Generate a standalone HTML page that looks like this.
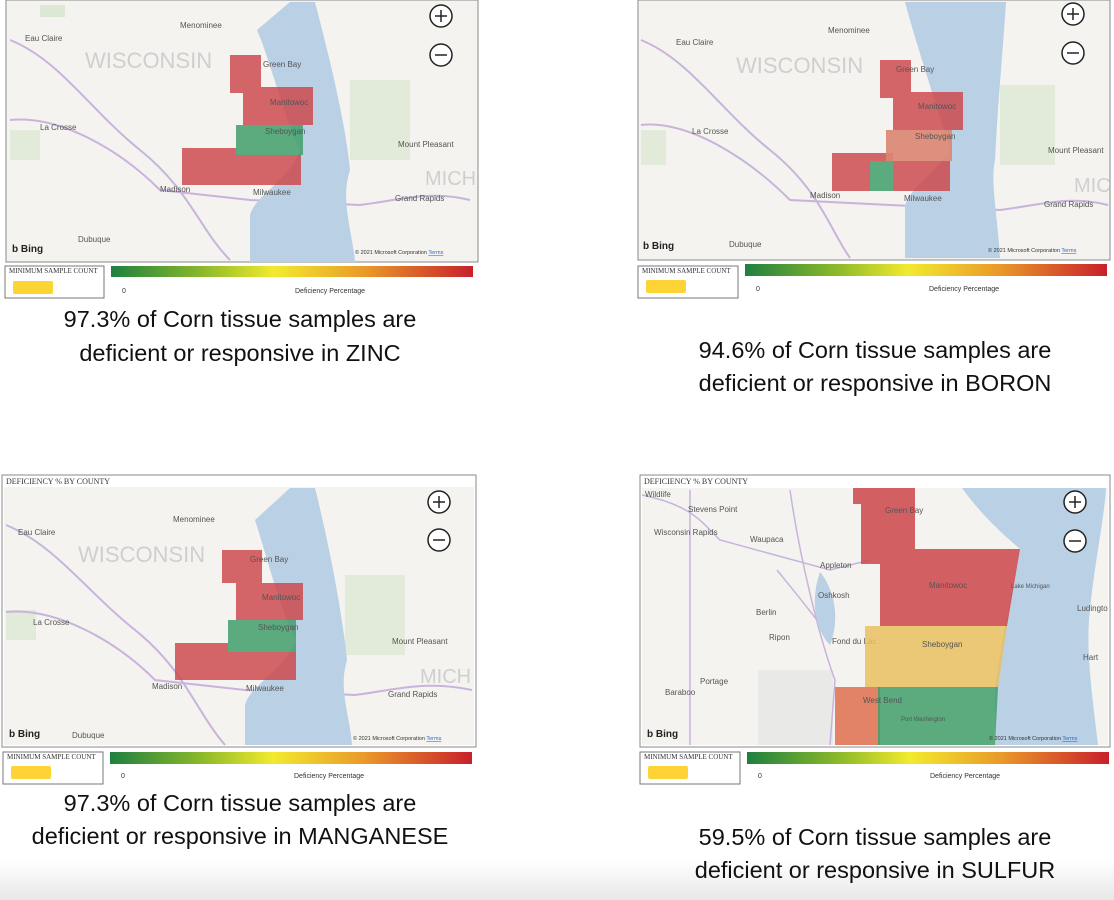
<!DOCTYPE html>
<html><head><meta charset="utf-8"><style>
html,body{margin:0;padding:0;background:#fff;}
svg{display:block;font-family:"Liberation Sans",sans-serif;}
.cap{font-size:23.5px;fill:#111;text-anchor:middle;}
.ml{font-size:8px;fill:#555;}
.ws{font-size:22px;fill:#cfcfcf;}
.lt{font-family:"Liberation Serif",serif;font-size:7px;fill:#333;}
</style></head><body>
<svg width="1114" height="900" viewBox="0 0 1114 900">
<defs>
<linearGradient id="g" x1="0" x2="1"><stop offset="0" stop-color="#1e8040"/><stop offset="0.25" stop-color="#8ab82a"/><stop offset="0.45" stop-color="#f2ea2e"/><stop offset="0.7" stop-color="#ea9a2a"/><stop offset="1" stop-color="#c8202a"/></linearGradient>
<linearGradient id="bot" x1="0" y1="0" x2="0" y2="1"><stop offset="0" stop-color="#fff"/><stop offset="1" stop-color="#e8e8e8"/></linearGradient>
</defs>
<rect x="0" y="860" width="1114" height="40" fill="url(#bot)"/>

<!-- Panel 1 -->
<rect x="6" y="0" width="472" height="262" fill="#f4f3ef" stroke="#888"/>
<rect x="40" y="5" width="25" height="12" fill="#dde8d4"/><rect x="350" y="80" width="60" height="80" fill="#e2ebd9"/><rect x="10" y="130" width="30" height="30" fill="#e2ebd9"/>
<path d="M10,40 C60,60 90,110 140,150 S200,230 230,260" stroke="#c9b3dc" fill="none" stroke-width="2"/>
<path d="M10,120 C60,115 120,150 160,190 L250,200 L360,205 C400,200 430,190 470,200" stroke="#c9b3dc" fill="none" stroke-width="2"/>
<path d="M257,30 C270,60 285,120 300,150 C290,180 255,195 250,215 L250,262 L355,262 C352,230 340,200 350,170 C345,120 330,60 315,2 L290,2 Z" fill="#bad0e4"/>
<text x="85" y="68" class="ws">WISCONSIN</text>
<text x="25" y="41" class="ml">Eau Claire</text><text x="40" y="130" class="ml">La Crosse</text><text x="160" y="192" class="ml">Madison</text><text x="253" y="195" class="ml">Milwaukee</text><text x="78" y="242" class="ml">Dubuque</text><text x="398" y="147" class="ml">Mount Pleasant</text><text x="395" y="201" class="ml">Grand Rapids</text><text x="180" y="28" class="ml">Menominee</text><text x="425" y="185" class="ws" style="font-size:20px">MICH</text>
<g fill="#cd4a4f" fill-opacity="0.85">
<path d="M230,55 H261 V87 H313 V125 H243 V93 H230 Z"/><path d="M182,148 H236 V155 H301 V185 H182 Z"/></g>
<rect x="236" y="125" width="67" height="30" fill="#3f9e6a" fill-opacity="0.85"/>
<text x="263" y="67" class="ml">Green Bay</text><text x="270" y="105" class="ml">Manitowoc</text><text x="265" y="134" class="ml">Sheboygan</text>
<text x="12" y="252" font-size="10" font-weight="bold" fill="#222">b Bing</text>
<text x="355" y="254" font-size="5.5" fill="#333">© 2021 Microsoft Corporation <tspan fill="#36c" text-decoration="underline">Terms</tspan></text>
<circle cx="441" cy="16" r="11" fill="#fff" stroke="#222" stroke-width="1.5"/><path d="M435,16h12M441,10v12" stroke="#222" stroke-width="1.5"/>
<circle cx="441" cy="55" r="11" fill="#fff" stroke="#222" stroke-width="1.5"/><path d="M435,55h12" stroke="#222" stroke-width="1.5"/>
<rect x="5" y="266" width="99" height="32" fill="#fff" stroke="#777"/><text x="9" y="273" class="lt">MINIMUM SAMPLE COUNT</text><rect x="13" y="281" width="40" height="13" rx="2" fill="#fdd335"/>
<rect x="111" y="266" width="362" height="11" fill="url(#g)"/>
<text x="122" y="293" font-size="7" fill="#333">0</text><text x="295" y="293" font-size="7" fill="#333">Deficiency Percentage</text>
<text x="240" y="327" class="cap">97.3% of Corn tissue samples are</text>
<text x="240" y="361" class="cap">deficient or responsive in ZINC</text>

<!-- Panel 2 -->
<rect x="638" y="0" width="472" height="260" fill="#f4f3ef" stroke="#888"/>
<rect x="1000" y="85" width="55" height="80" fill="#e2ebd9"/><rect x="641" y="130" width="25" height="35" fill="#e2ebd9"/>
<path d="M641,40 C690,60 720,110 770,150 S830,230 850,258" stroke="#c9b3dc" fill="none" stroke-width="2"/>
<path d="M641,125 C690,120 750,160 790,200 L890,205 L1000,210 C1040,205 1070,195 1108,205" stroke="#c9b3dc" fill="none" stroke-width="2"/>
<path d="M905,2 C915,40 935,100 950,150 C930,180 905,190 905,210 L905,258 L1000,258 C998,220 990,180 995,160 C998,100 1003,50 1006,2 Z" fill="#bad0e4"/>
<text x="736" y="73" class="ws">WISCONSIN</text>
<text x="676" y="45" class="ml">Eau Claire</text><text x="692" y="134" class="ml">La Crosse</text><text x="810" y="198" class="ml">Madison</text><text x="904" y="201" class="ml">Milwaukee</text><text x="729" y="247" class="ml">Dubuque</text><text x="1048" y="153" class="ml">Mount Pleasant</text><text x="1044" y="207" class="ml">Grand Rapids</text><text x="828" y="33" class="ml">Menominee</text><text x="1074" y="192" class="ws" style="font-size:20px">MIC</text>
<g fill="#cd4a4f" fill-opacity="0.85">
<path d="M880,60 H911 V92 H963 V130 H893 V98 H880 Z"/><path d="M832,153 H893 V161 H870 V191 H832 Z"/><path d="M893,161 H950 V191 H893 Z"/></g>
<rect x="886" y="130" width="66" height="31" fill="#dc8572" fill-opacity="0.9"/>
<rect x="870" y="161" width="23" height="30" fill="#3f9e6a" fill-opacity="0.85"/>
<text x="896" y="72" class="ml">Green Bay</text><text x="918" y="109" class="ml">Manitowoc</text><text x="915" y="139" class="ml">Sheboygan</text>
<text x="643" y="249" font-size="10" font-weight="bold" fill="#222">b Bing</text>
<text x="988" y="252" font-size="5.5" fill="#333">© 2021 Microsoft Corporation <tspan fill="#36c" text-decoration="underline">Terms</tspan></text>
<circle cx="1073" cy="14" r="11" fill="#fff" stroke="#222" stroke-width="1.5"/><path d="M1067,14h12M1073,8v12" stroke="#222" stroke-width="1.5"/>
<circle cx="1073" cy="53" r="11" fill="#fff" stroke="#222" stroke-width="1.5"/><path d="M1067,53h12" stroke="#222" stroke-width="1.5"/>
<rect x="638" y="266" width="100" height="32" fill="#fff" stroke="#777"/><text x="642" y="273" class="lt">MINIMUM SAMPLE COUNT</text><rect x="646" y="280" width="40" height="13" rx="2" fill="#fdd335"/>
<rect x="745" y="264" width="362" height="12" fill="url(#g)"/>
<text x="756" y="291" font-size="7" fill="#333">0</text><text x="929" y="291" font-size="7" fill="#333">Deficiency Percentage</text>
<text x="875" y="358" class="cap">94.6% of Corn tissue samples are</text>
<text x="875" y="391" class="cap">deficient or responsive in BORON</text>

<!-- Panel 3 -->
<rect x="2" y="475" width="474" height="272" fill="#fff" stroke="#888"/>
<text x="6" y="484" class="lt" style="font-size:8px">DEFICIENCY % BY COUNTY</text>
<rect x="4" y="487" width="470" height="258" fill="#f4f3ef"/>
<rect x="345" y="575" width="60" height="80" fill="#e2ebd9"/><rect x="6" y="610" width="30" height="30" fill="#e2ebd9"/>
<path d="M6,525 C55,545 85,590 135,630 S195,710 225,745" stroke="#c9b3dc" fill="none" stroke-width="2"/>
<path d="M6,612 C55,607 115,640 155,680 L245,690 L355,695 C395,690 425,680 472,690" stroke="#c9b3dc" fill="none" stroke-width="2"/>
<path d="M255,520 C265,550 280,610 296,640 C285,670 250,685 245,705 L245,745 L352,745 C350,715 338,690 347,660 C342,610 328,540 315,488 L290,488 Z" fill="#bad0e4"/>
<text x="78" y="562" class="ws">WISCONSIN</text>
<text x="18" y="535" class="ml">Eau Claire</text><text x="33" y="625" class="ml">La Crosse</text><text x="152" y="689" class="ml">Madison</text><text x="246" y="691" class="ml">Milwaukee</text><text x="72" y="738" class="ml">Dubuque</text><text x="392" y="644" class="ml">Mount Pleasant</text><text x="388" y="697" class="ml">Grand Rapids</text><text x="173" y="522" class="ml">Menominee</text><text x="420" y="683" class="ws" style="font-size:20px">MICH</text>
<g fill="#cd4a4f" fill-opacity="0.85">
<path d="M222,550 H262 V583 H303 V620 H236 V583 H222 Z"/><path d="M175,643 H228 V652 H296 V680 H175 Z"/></g>
<rect x="228" y="620" width="68" height="32" fill="#3f9e6a" fill-opacity="0.85"/>
<text x="250" y="562" class="ml">Green Bay</text><text x="262" y="600" class="ml">Manitowoc</text><text x="258" y="630" class="ml">Sheboygan</text>
<text x="9" y="737" font-size="10" font-weight="bold" fill="#222">b Bing</text>
<text x="353" y="740" font-size="5.5" fill="#333">© 2021 Microsoft Corporation <tspan fill="#36c" text-decoration="underline">Terms</tspan></text>
<circle cx="439" cy="502" r="11" fill="#fff" stroke="#222" stroke-width="1.5"/><path d="M433,502h12M439,496v12" stroke="#222" stroke-width="1.5"/>
<circle cx="439" cy="540" r="11" fill="#fff" stroke="#222" stroke-width="1.5"/><path d="M433,540h12" stroke="#222" stroke-width="1.5"/>
<rect x="3" y="752" width="100" height="32" fill="#fff" stroke="#777"/><text x="7" y="759" class="lt">MINIMUM SAMPLE COUNT</text><rect x="11" y="766" width="40" height="13" rx="2" fill="#fdd335"/>
<rect x="110" y="752" width="362" height="12" fill="url(#g)"/>
<text x="121" y="778" font-size="7" fill="#333">0</text><text x="294" y="778" font-size="7" fill="#333">Deficiency Percentage</text>
<text x="240" y="811" class="cap">97.3% of Corn tissue samples are</text>
<text x="240" y="844" class="cap">deficient or responsive in MANGANESE</text>

<!-- Panel 4 -->
<rect x="640" y="475" width="470" height="272" fill="#fff" stroke="#888"/>
<text x="644" y="484" class="lt" style="font-size:8px">DEFICIENCY % BY COUNTY</text>
<rect x="642" y="488" width="466" height="257" fill="#f4f3ef"/>
<rect x="758" y="670" width="75" height="75" fill="#e9e9e8"/>
<path d="M642,495 C690,505 700,520 720,540 L830,570 L870,560" stroke="#c9b3dc" fill="none" stroke-width="1.5"/>
<path d="M690,490 V745 M790,490 C800,560 820,640 835,680 L830,745" stroke="#c9b3dc" fill="none" stroke-width="1.5"/>
<path d="M777,570 C785,580 810,610 832,640" stroke="#c9b3dc" fill="none" stroke-width="1.5"/>
<path d="M820,572 C810,600 815,630 830,645 C840,620 835,590 820,572 Z" fill="#bad0e4"/>
<path d="M962,488 C985,520 1010,540 1020,549 L1005,626 L995,687 L995,745 L1098,745 C1093,700 1085,650 1090,610 C1095,560 1104,520 1106,488 Z" fill="#bad0e4"/>
<text x="688" y="512" class="ml">Stevens Point</text><text x="654" y="535" class="ml">Wisconsin Rapids</text><text x="750" y="542" class="ml">Waupaca</text><text x="820" y="568" class="ml">Appleton</text><text x="818" y="598" class="ml">Oshkosh</text><text x="756" y="615" class="ml">Berlin</text><text x="769" y="640" class="ml">Ripon</text><text x="832" y="644" class="ml">Fond du Lac</text><text x="700" y="684" class="ml">Portage</text><text x="665" y="695" class="ml">Baraboo</text><text x="645" y="497" class="ml">Wildlife</text><text x="1077" y="611" class="ml">Ludingto</text><text x="1083" y="660" class="ml">Hart</text>
<g fill="#cd4a4f" fill-opacity="0.88">
<path d="M853,488 H915 V549 H1020 L1007,626 H880 V564 H861 V504 H853 Z"/></g>
<path d="M865,626 H1007 L998,687 H865 Z" fill="#e8c060" fill-opacity="0.85"/>
<rect x="835" y="687" width="45" height="58" fill="#e07656" fill-opacity="0.9"/>
<path d="M878,687 H998 L995,745 H878 Z" fill="#3f9e6a" fill-opacity="0.85"/>
<text x="885" y="513" class="ml">Green Bay</text><text x="929" y="588" class="ml">Manitowoc</text><text x="922" y="647" class="ml" fill="#b07050">Sheboygan</text><text x="863" y="703" class="ml">West Bend</text><text x="901" y="721" class="ml" style="font-size:6px">Port Washington</text><text x="1011" y="588" class="ml" fill="#4466aa" style="font-size:6px">Lake Michigan</text>
<text x="647" y="737" font-size="10" font-weight="bold" fill="#222">b Bing</text>
<text x="989" y="740" font-size="5.5" fill="#333">© 2021 Microsoft Corporation <tspan fill="#36c" text-decoration="underline">Terms</tspan></text>
<circle cx="1075" cy="502" r="11" fill="#fff" stroke="#222" stroke-width="1.5"/><path d="M1069,502h12M1075,496v12" stroke="#222" stroke-width="1.5"/>
<circle cx="1075" cy="541" r="11" fill="#fff" stroke="#222" stroke-width="1.5"/><path d="M1069,541h12" stroke="#222" stroke-width="1.5"/>
<rect x="640" y="752" width="100" height="32" fill="#fff" stroke="#777"/><text x="644" y="759" class="lt">MINIMUM SAMPLE COUNT</text><rect x="648" y="766" width="40" height="13" rx="2" fill="#fdd335"/>
<rect x="747" y="752" width="362" height="12" fill="url(#g)"/>
<text x="758" y="778" font-size="7" fill="#333">0</text><text x="930" y="778" font-size="7" fill="#333">Deficiency Percentage</text>
<text x="875" y="845" class="cap">59.5% of Corn tissue samples are</text>
<text x="875" y="878" class="cap">deficient or responsive in SULFUR</text>
</svg>
</body></html>
